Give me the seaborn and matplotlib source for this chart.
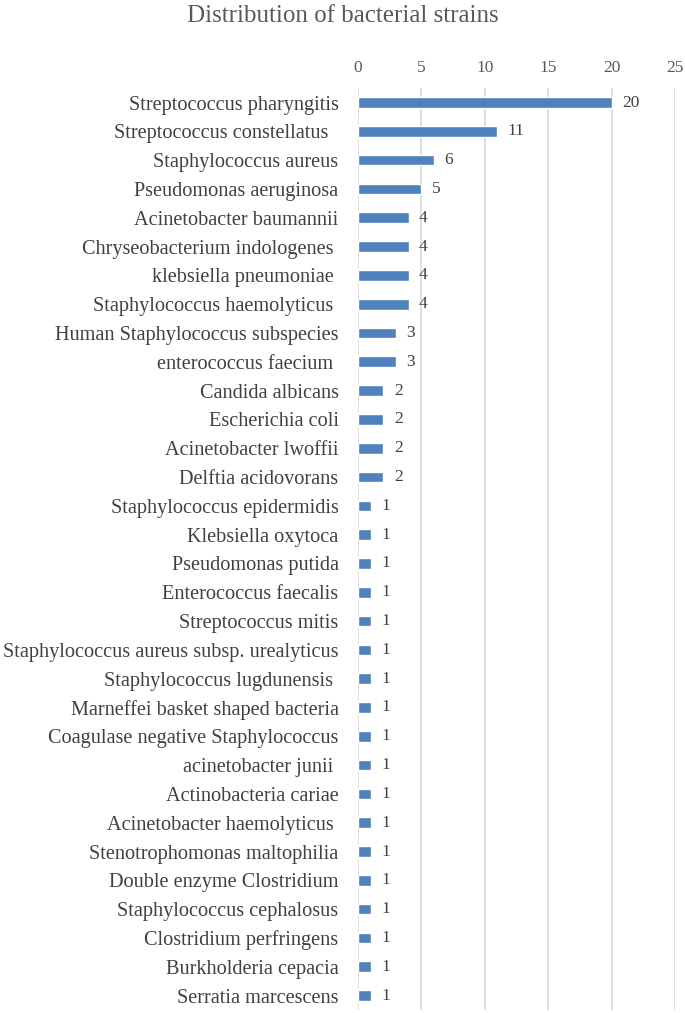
import pandas as pd
import numpy as np
import matplotlib.pyplot as plt
import seaborn as sns

# some labels in the source carry a trailing space
strains = [
    "Streptococcus pharyngitis", "Streptococcus constellatus  ", "Staphylococcus aureus",
    "Pseudomonas aeruginosa", "Acinetobacter baumannii", "Chryseobacterium indologenes ",
    "klebsiella pneumoniae ", "Staphylococcus haemolyticus ", "Human Staphylococcus subspecies",
    "enterococcus faecium ", "Candida albicans", "Escherichia coli", "Acinetobacter lwoffii",
    "Delftia acidovorans", "Staphylococcus epidermidis", "Klebsiella oxytoca",
    "Pseudomonas putida", "Enterococcus faecalis", "Streptococcus mitis",
    "Staphylococcus aureus subsp. urealyticus", "Staphylococcus lugdunensis ",
    "Marneffei basket shaped bacteria", "Coagulase negative Staphylococcus",
    "acinetobacter junii ", "Actinobacteria cariae", "Acinetobacter haemolyticus ",
    "Stenotrophomonas maltophilia", "Double enzyme Clostridium", "Staphylococcus cephalosus",
    "Clostridium perfringens", "Burkholderia cepacia", "Serratia marcescens",
]
counts = [20, 11, 6, 5, 4, 4, 4, 4, 3, 3, 2, 2, 2, 2] + [1] * 18
xticks = [0, 5, 10, 15, 20, 25]

df = pd.DataFrame({"strain": strains, "count": counts})

sns.set_style("white")
plt.rcParams['font.family'] = ['Liberation Serif', 'DejaVu Serif']

fig = plt.figure(figsize=(6.85, 10.13), dpi=100)
ax = fig.add_axes([0.5226, 0.003, 0.4628, 0.910])

sns.barplot(data=df, x="count", y="strain", color="#4F81BD", width=0.37,
            saturation=1, ax=ax, zorder=3)

for i, v in enumerate(counts):
    ax.annotate(str(v), (v, i), xytext=(7.5, 0), textcoords="offset points",
                va="center", ha="left", fontsize=12.5, color="#404040")

ax.set_xlim(0, 25)
ax.set_ylim(len(strains) - 0.5, -0.5)
ax.set_xticks(xticks)
ax.xaxis.tick_top()
ax.tick_params(axis="x", length=0, labelsize=12.5, labelcolor="#595959", pad=9)
ax.tick_params(axis="y", length=0, labelsize=14.6, labelcolor="#404040", pad=14)
ax.grid(axis="x", color="#D9D9D9", linewidth=1.2, zorder=0)
ax.set_xlabel("")
ax.set_ylabel("")
for s in ax.spines.values():
    s.set_visible(False)

fig.text(0.5, 0.995, "Distribution of bacterial strains", ha="center", va="top",
         fontsize=18, color="#595959")

fig.savefig("out.png", dpi=100)
